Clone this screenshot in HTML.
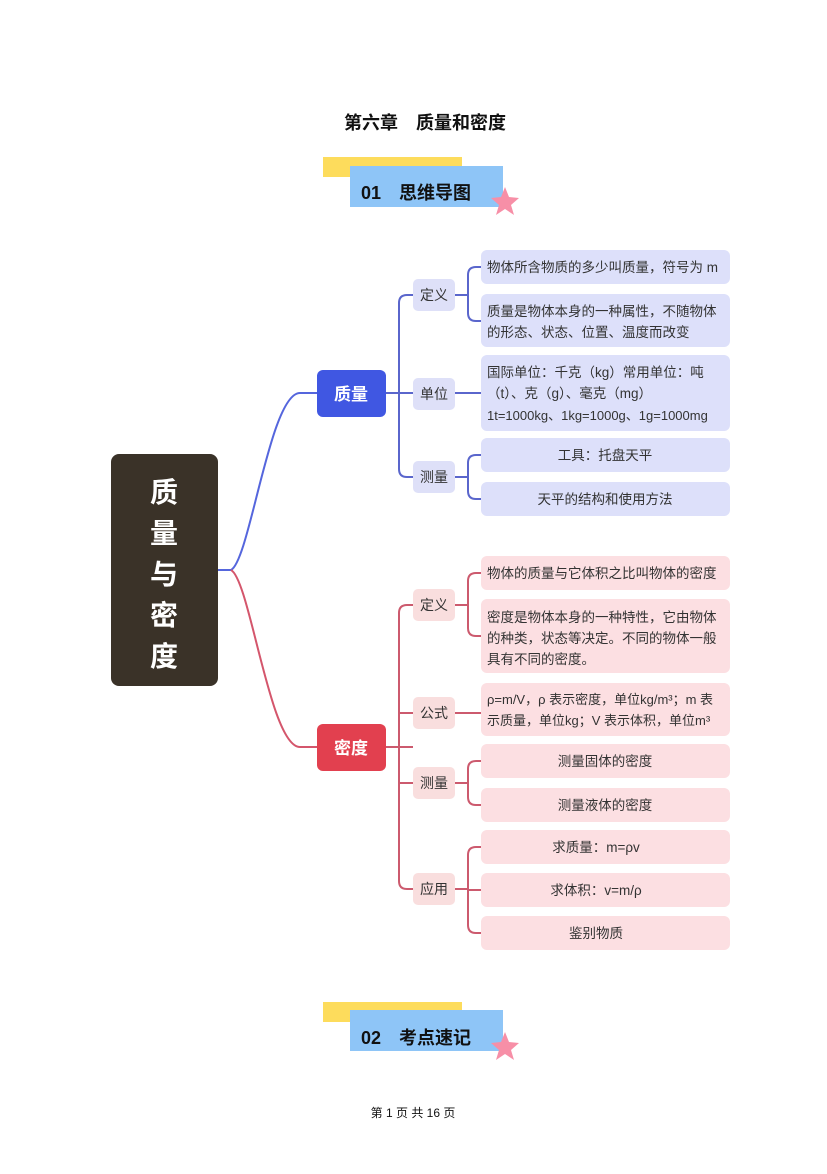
<!DOCTYPE html>
<html><head><meta charset="utf-8"><style>
body{margin:0;background:#fff;}
svg text{font-family:"Liberation Sans","Noto Sans CJK SC",sans-serif;}
</style></head><body>
<svg width="827" height="1169" viewBox="0 0 827 1169" xmlns="http://www.w3.org/2000/svg">
<text x="425" y="129" text-anchor="middle" font-size="18" font-weight="bold" fill="#111">第六章　质量和密度</text>
<rect x="323" y="157" width="139" height="20" fill="#fddc5c"/>
<rect x="350" y="166" width="153" height="41" fill="#8ec5f7"/>
<text x="361" y="199" font-size="18" font-weight="bold" fill="#111">01　思维导图</text>
<polygon points="505,187 509,197 519,198 511,205 514,215 505,209 496,215 499,205 491,198 501,197" fill="#f78fa7"/>
<rect x="323" y="1002" width="139" height="20" fill="#fddc5c"/>
<rect x="350" y="1010" width="153" height="41" fill="#8ec5f7"/>
<text x="361" y="1044" font-size="18" font-weight="bold" fill="#111">02　考点速记</text>
<polygon points="505,1032 509,1042 519,1043 511,1050 514,1060 505,1054 496,1060 499,1050 491,1043 501,1042" fill="#f78fa7"/>

<rect x="111" y="454" width="107" height="232" rx="8" fill="#3a3228"/>
<g font-size="28" font-weight="bold" fill="#fff" text-anchor="middle">
<text x="164" y="502">质</text><text x="164" y="543">量</text><text x="164" y="584">与</text><text x="164" y="625">密</text><text x="164" y="666">度</text>
</g>
<path d="M218,570 H231 C250,560 270,393 300,393 H317" fill="none" stroke="#5566dd" stroke-width="2"/>
<path d="M231,570 C250,580 270,747 300,747 H317" fill="none" stroke="#d4566c" stroke-width="2"/>

<rect x="317" y="370" width="69" height="47" rx="6" fill="#4057e2"/>
<text x="351" y="400" text-anchor="middle" font-size="17" font-weight="bold" fill="#fff">质量</text>
<rect x="317" y="724" width="69" height="47" rx="6" fill="#e2404f"/>
<text x="351" y="754" text-anchor="middle" font-size="17" font-weight="bold" fill="#fff">密度</text>

<g fill="none" stroke="#5a66cc" stroke-width="2">
<path d="M386,393 H413"/>
<path d="M413,295 H407 Q399,295 399,303 V469 Q399,477 407,477 H413"/>
<path d="M455,295 H468 M476,267 Q468,267 468,275 V313 Q468,321 476,321 H481 M476,267 H481"/>
<path d="M455,393 H481"/>
<path d="M455,477 H468 M481,455 H476 Q468,455 468,463 V491 Q468,499 476,499 H481"/>
</g>
<g fill="#dee0f8">
<rect x="413" y="279" width="42" height="32" rx="5"/>
<rect x="413" y="378" width="42" height="32" rx="5"/>
<rect x="413" y="461" width="42" height="32" rx="5"/>
</g>
<g fill="#dde0fa">
<rect x="481" y="250" width="249" height="34" rx="6"/>
<rect x="481" y="294" width="249" height="53" rx="6"/>
<rect x="481" y="355" width="249" height="76" rx="6"/>
<rect x="481" y="438" width="249" height="34" rx="6"/>
<rect x="481" y="482" width="249" height="34" rx="6"/>
</g>
<g font-size="13.5" fill="#333">
<text x="434" y="300" text-anchor="middle" font-size="14">定义</text>
<text x="434" y="399" text-anchor="middle" font-size="14">单位</text>
<text x="434" y="482" text-anchor="middle" font-size="14">测量</text>
<text x="487" y="272">物体所含物质的多少叫质量，符号为 m</text>
<text x="487" y="316">质量是物体本身的一种属性，不随物体</text>
<text x="487" y="337">的形态、状态、位置、温度而改变</text>
<text x="487" y="377">国际单位：千克（kg）常用单位：吨</text>
<text x="487" y="398">（t）、克（g）、毫克（mg）</text>
<text x="487" y="420" font-size="13">1t=1000kg、1kg=1000g、1g=1000mg</text>
<text x="605" y="460" text-anchor="middle">工具：托盘天平</text>
<text x="605" y="504" text-anchor="middle">天平的结构和使用方法</text>
</g>

<g fill="none" stroke="#cc5a6e" stroke-width="2">
<path d="M386,747 H413"/>
<path d="M413,605 H407 Q399,605 399,613 V881 Q399,889 407,889 H413"/>
<path d="M399,713 H413 M399,783 H413"/>
<path d="M455,605 H468 M481,573 H476 Q468,573 468,581 V628 Q468,636 476,636 H481"/>
<path d="M455,713 H481"/>
<path d="M455,783 H468 M481,761 H476 Q468,761 468,769 V797 Q468,805 476,805 H481"/>
<path d="M455,889 H468 M481,847 H476 Q468,847 468,855 V925 Q468,933 476,933 H481 M468,890 H481"/>
</g>
<g fill="#f9dede">
<rect x="413" y="589" width="42" height="32" rx="5"/>
<rect x="413" y="697" width="42" height="32" rx="5"/>
<rect x="413" y="767" width="42" height="32" rx="5"/>
<rect x="413" y="873" width="42" height="32" rx="5"/>
</g>
<g fill="#fcdfe2">
<rect x="481" y="556" width="249" height="34" rx="6"/>
<rect x="481" y="599" width="249" height="74" rx="6"/>
<rect x="481" y="683" width="249" height="53" rx="6"/>
<rect x="481" y="744" width="249" height="34" rx="6"/>
<rect x="481" y="788" width="249" height="34" rx="6"/>
<rect x="481" y="830" width="249" height="34" rx="6"/>
<rect x="481" y="873" width="249" height="34" rx="6"/>
<rect x="481" y="916" width="249" height="34" rx="6"/>
</g>
<g font-size="13.5" fill="#333">
<text x="434" y="610" text-anchor="middle" font-size="14">定义</text>
<text x="434" y="718" text-anchor="middle" font-size="14">公式</text>
<text x="434" y="788" text-anchor="middle" font-size="14">测量</text>
<text x="434" y="894" text-anchor="middle" font-size="14">应用</text>
<text x="487" y="578">物体的质量与它体积之比叫物体的密度</text>
<text x="487" y="622">密度是物体本身的一种特性，它由物体</text>
<text x="487" y="643">的种类，状态等决定。不同的物体一般</text>
<text x="487" y="664">具有不同的密度。</text>
<text x="487" y="704" font-size="13">ρ=m/V，ρ 表示密度，单位kg/m³；m 表</text>
<text x="487" y="725" font-size="13">示质量，单位kg；V 表示体积，单位m³</text>
<text x="605" y="766" text-anchor="middle">测量固体的密度</text>
<text x="605" y="810" text-anchor="middle">测量液体的密度</text>
<text x="596" y="852" text-anchor="middle">求质量：m=ρv</text>
<text x="596" y="895" text-anchor="middle">求体积：v=m/ρ</text>
<text x="596" y="938" text-anchor="middle">鉴别物质</text>
</g>

<text x="413" y="1117" text-anchor="middle" font-size="12" fill="#111">第 1 页 共 16 页</text>
</svg>
</body></html>
